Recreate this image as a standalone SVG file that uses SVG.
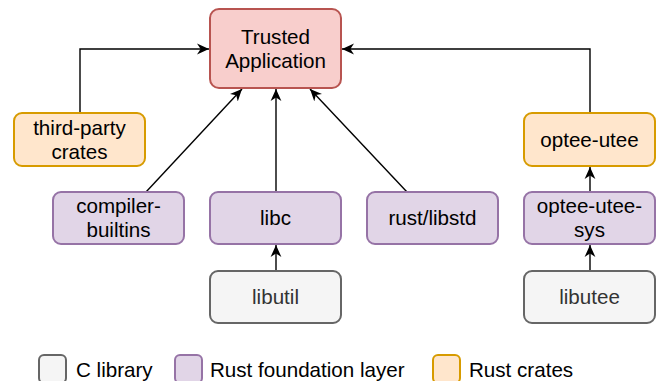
<svg xmlns="http://www.w3.org/2000/svg" width="657" height="381" viewBox="0 0 657 381">
<defs>
<marker id="arr" viewBox="0 0 10 10" refX="10" refY="5" markerWidth="12" markerHeight="12" markerUnits="userSpaceOnUse" orient="auto">
<path d="M0,0.5 L10,5 L0,9.5 L3,5 z" fill="#000"/>
</marker>
<style>
text{font-family:"Liberation Sans",Arial,Helvetica,sans-serif;font-size:20.6px;fill:#000;text-anchor:middle}
.red{fill:#f8cecc;stroke:#b85450;stroke-width:2}
.org{fill:#ffe6cc;stroke:#d79b00;stroke-width:2}
.pur{fill:#e1d5e7;stroke:#9673a6;stroke-width:2}
.gry{fill:#f5f5f5;stroke:#666666;stroke-width:2}
.gt{fill:#333333}
.lg{text-anchor:start}
.c{fill:none;stroke:#000;stroke-width:1.4;marker-end:url(#arr)}
</style>
</defs>
<rect width="657" height="381" fill="#fff"/>
<g id="connectors">
<path class="c" d="M80,113 V49 H209"/>
<path class="c" d="M590,113 V49 H342"/>
<path class="c" d="M146,192 L242,89"/>
<path class="c" d="M276,192 V89"/>
<path class="c" d="M407,192 L310,89"/>
<path class="c" d="M276,271 V245"/>
<path class="c" d="M590,192 V167"/>
<path class="c" d="M590,271 V245"/>
</g>
<g id="trusted-application">
<rect class="red" x="210" y="9" width="131" height="79" rx="9"/>
<text x="275.5" y="43.5">Trusted</text>
<text x="275.5" y="67.5">Application</text>
</g>
<g id="third-party-crates">
<rect class="org" x="14" y="113" width="131" height="53" rx="8"/>
<text x="79.5" y="135">third-party</text>
<text x="79.5" y="159">crates</text>
</g>
<g id="optee-utee">
<rect class="org" x="524" y="113" width="131" height="53" rx="8"/>
<text x="589.5" y="146.5">optee-utee</text>
</g>
<g id="compiler-builtins">
<rect class="pur" x="53" y="192" width="131" height="52" rx="8"/>
<text x="118.5" y="213">compiler-</text>
<text x="118.5" y="237">builtins</text>
</g>
<g id="libc">
<rect class="pur" x="210" y="192" width="131" height="52" rx="8"/>
<text x="275.5" y="225">libc</text>
</g>
<g id="rust-libstd">
<rect class="pur" x="367" y="192" width="131" height="52" rx="8"/>
<text x="432.5" y="225">rust/libstd</text>
</g>
<g id="optee-utee-sys">
<rect class="pur" x="524" y="192" width="131" height="52" rx="8"/>
<text x="589.5" y="213">optee-utee-</text>
<text x="589.5" y="237">sys</text>
</g>
<g id="libutil">
<rect class="gry" x="210" y="271" width="131" height="52" rx="8"/>
<text class="gt" x="275.5" y="304">libutil</text>
</g>
<g id="libutee">
<rect class="gry" x="524" y="271" width="131" height="52" rx="8"/>
<text class="gt" x="589.5" y="304">libutee</text>
</g>
<g id="legend">
<rect class="gry" x="39" y="355" width="27" height="28" rx="5"/>
<text class="lg" x="76" y="377">C library</text>
<rect class="pur" x="175" y="355" width="27" height="28" rx="5"/>
<text class="lg" x="210" y="377">Rust foundation layer</text>
<rect class="org" x="433" y="355" width="27" height="28" rx="5"/>
<text class="lg" x="469" y="377">Rust crates</text>
</g>
</svg>
